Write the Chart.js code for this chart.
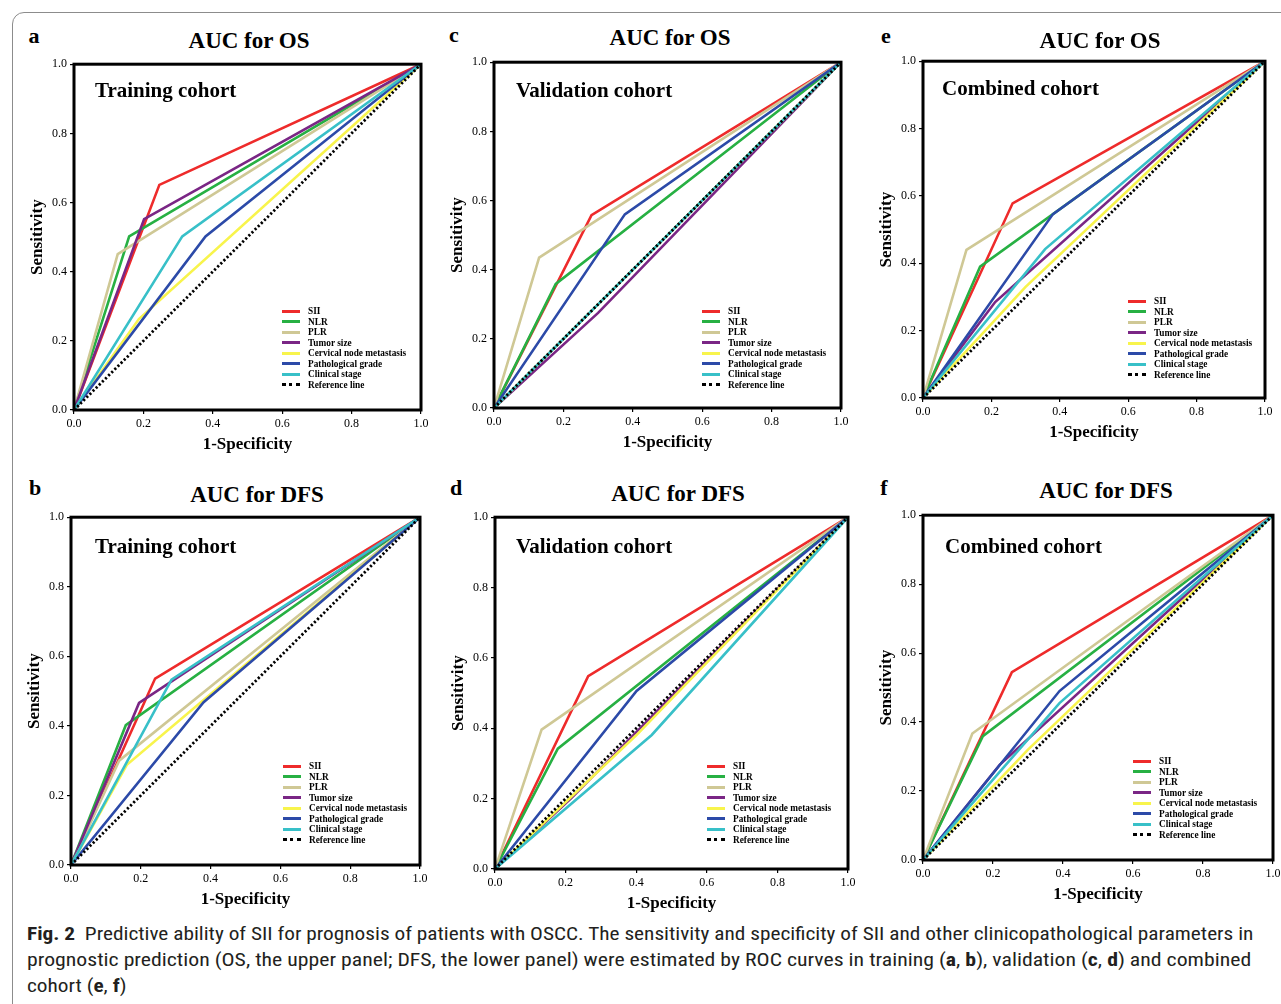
<!DOCTYPE html>
<html>
<head>
<meta charset="utf-8">
<script src="https://cdn.jsdelivr.net/npm/chart.js@4.4.0/dist/chart.umd.min.js"></script>
<style>
  body { margin: 0; width: 1281px; height: 1004px; position: relative; overflow: hidden; background: #fff; font-family: "Liberation Serif", serif; color: #000; }
  .frame { position: absolute; left: 12px; top: 12px; width: 1320px; height: 1100px; border: 1px solid #8c8c8c; border-radius: 12px 0 0 0; }
  canvas { position: absolute; }
  .letter { position: absolute; font-weight: bold; font-size: 22px; line-height: 1; transform: translate(-50%, -50%); }
  .title { position: absolute; font-weight: bold; font-size: 23px; line-height: 1; white-space: nowrap; transform: translate(-50%, -50%); }
  .cohort { position: absolute; font-weight: bold; font-size: 21px; line-height: 1; white-space: nowrap; transform: translateY(-50%); }
  .legend { position: absolute; font-weight: bold; font-size: 9.3px; }
  .legend .row { display: flex; align-items: center; height: 10.5px; white-space: nowrap; }
  .legend .swatch { width: 18px; height: 0; border-top: 3px solid; margin-right: 8px; }
  .legend .dots { border-top-style: dotted; border-top-color: #000; }
  .caption { position: absolute; left: 27px; top: 921px; font-family: "Liberation Sans Narrow", "Roboto Condensed", "Noto Sans", sans-serif; font-size: 19px; line-height: 26px; color: #231f20; }
  .caption div { white-space: nowrap; transform-origin: 0 50%; width: max-content; }
</style>
</head>
<body>
<div class="frame"></div>
<div class="caption">
  <div id="cap1"><b>Fig. 2</b>&nbsp; Predictive ability of SII for prognosis of patients with OSCC. The sensitivity and specificity of SII and other clinicopathological parameters in</div>
  <div id="cap2">prognostic prediction (OS, the upper panel; DFS, the lower panel) were estimated by ROC curves in training (<b>a</b>, <b>b</b>), validation (<b>c</b>, <b>d</b>) and combined</div>
  <div id="cap3">cohort (<b>e</b>, <b>f</b>)</div>
</div>
<script>
// curve names, in legend order
const seriesNames = ['SII', 'NLR', 'PLR', 'Tumor size', 'Cervical node metastasis', 'Pathological grade', 'Clinical stage'];
const refName = 'Reference line';
const axisTicks = [0, 0.2, 0.4, 0.6, 0.8, 1.0];

// every ROC curve runs (0,0) -> cut-off point -> (1,1)
const rocStartX = 0, rocStartY = 0, rocEndX = 1, rocEndY = 1;
const refX = [0, 1];
const refY = [0, 1];

// cut-off point of each curve: 1-specificity (Fpr) and sensitivity (Tpr)
const osTrainFpr = [0.246, 0.159, 0.126, 0.202, 0.187, 0.379, 0.312];
const osTrainTpr = [0.651, 0.502, 0.451, 0.552, 0.263, 0.502, 0.502];
const osValidFpr = [0.281, 0.178, 0.130, 0.300, 0.500, 0.377, 0.500];
const osValidTpr = [0.558, 0.359, 0.435, 0.275, 0.500, 0.560, 0.500];
const osCombFpr = [0.262, 0.167, 0.127, 0.211, 0.300, 0.380, 0.357];
const osCombTpr = [0.578, 0.390, 0.440, 0.285, 0.330, 0.546, 0.442];
const dfsTrainFpr = [0.241, 0.157, 0.138, 0.195, 0.160, 0.380, 0.288];
const dfsTrainTpr = [0.536, 0.402, 0.300, 0.466, 0.288, 0.468, 0.533];
const dfsValidFpr = [0.264, 0.178, 0.132, 0.217, 0.400, 0.401, 0.444];
const dfsValidTpr = [0.548, 0.342, 0.396, 0.202, 0.380, 0.506, 0.381];
const dfsCombFpr = [0.254, 0.171, 0.141, 0.219, 0.300, 0.390, 0.390];
const dfsCombTpr = [0.545, 0.359, 0.367, 0.276, 0.320, 0.490, 0.455];

const seriesColors = ['#ee2b2b', '#27b043', '#cfc895', '#7a2685', '#f8f44c', '#2c4aa8', '#38c0c8'];

// layout: chart area box (L,R,T,B), label spots
const panels = [
  { letter: 'a', title: 'AUC for OS', cohort: 'Training cohort', fpr: osTrainFpr, tpr: osTrainTpr,
    L: 74, R: 421, T: 62, B: 410, letterAt: [34, 36], titleAt: [249, 40], cohortAt: [95, 90], legendAt: [282, 311] },
  { letter: 'c', title: 'AUC for OS', cohort: 'Validation cohort', fpr: osValidFpr, tpr: osValidTpr,
    L: 494, R: 841, T: 60, B: 408, letterAt: [454, 35], titleAt: [670, 37], cohortAt: [516, 90], legendAt: [702, 311] },
  { letter: 'e', title: 'AUC for OS', cohort: 'Combined cohort', fpr: osCombFpr, tpr: osCombTpr,
    L: 923, R: 1265, T: 59, B: 398, letterAt: [886, 36], titleAt: [1100, 40], cohortAt: [942, 88], legendAt: [1128, 301] },
  { letter: 'b', title: 'AUC for DFS', cohort: 'Training cohort', fpr: dfsTrainFpr, tpr: dfsTrainTpr,
    L: 71, R: 420, T: 515, B: 865, letterAt: [35, 488], titleAt: [257, 494], cohortAt: [95, 546], legendAt: [283, 766] },
  { letter: 'd', title: 'AUC for DFS', cohort: 'Validation cohort', fpr: dfsValidFpr, tpr: dfsValidTpr,
    L: 495, R: 848, T: 515, B: 869, letterAt: [456, 488], titleAt: [678, 493], cohortAt: [516, 546], legendAt: [707, 766] },
  { letter: 'f', title: 'AUC for DFS', cohort: 'Combined cohort', fpr: dfsCombFpr, tpr: dfsCombTpr,
    L: 923, R: 1273, T: 513, B: 860, letterAt: [884, 488], titleAt: [1106, 490], cohortAt: [945, 546], legendAt: [1133, 761] }
];

const YW = 50, XH = 48, PADT = 8, PADR = 12;
Chart.defaults.font.family = '"Liberation Serif", serif';
Chart.defaults.color = '#000';

const frameBox = {
  id: 'frameBox',
  afterDraw(chart) {
    const a = chart.chartArea, ctx = chart.ctx;
    ctx.save();
    ctx.strokeStyle = '#000';
    ctx.lineWidth = 3;
    ctx.strokeRect(a.left, a.top, a.right - a.left, a.bottom - a.top);
    ctx.restore();
  }
};

function addText(cls, text, x, y) {
  const d = document.createElement('div');
  d.className = cls;
  d.textContent = text;
  d.style.left = x + 'px';
  d.style.top = y + 'px';
  document.body.appendChild(d);
}

function axisOptions(label, fitFn) {
  return {
    type: 'linear', min: 0, max: 1,
    afterBuildTicks: s => { s.ticks = axisTicks.map(v => ({ value: v })); },
    ticks: { callback: v => v.toFixed(1), font: { size: 12 }, padding: 3, maxRotation: 0, autoSkip: false },
    grid: { drawOnChartArea: false, drawTicks: true, tickLength: 4, color: '#000', lineWidth: 1.2 },
    border: { display: false },
    title: { display: true, text: label, font: { size: 17, weight: 'bold' }, padding: 3 },
    afterFit: fitFn
  };
}

panels.forEach(p => {
  const cv = document.createElement('canvas');
  const w = YW + (p.R - p.L) + PADR;
  const h = PADT + (p.B - p.T) + XH;
  cv.width = w; cv.height = h;
  cv.style.left = (p.L - YW) + 'px';
  cv.style.top = (p.T - PADT) + 'px';
  cv.style.width = w + 'px'; cv.style.height = h + 'px';
  document.body.appendChild(cv);

  const n = seriesNames.length;
  const datasets = seriesNames.map((name, i) => ({
    label: name,
    data: [{ x: rocStartX, y: rocStartY }, { x: p.fpr[i], y: p.tpr[i] }, { x: rocEndX, y: rocEndY }],
    borderColor: seriesColors[i],
    borderWidth: 2.6,
    pointRadius: 0,
    tension: 0,
    fill: false,
    order: n - i + 1
  }));
  datasets.push({
    label: refName,
    data: refX.map((x, k) => ({ x: x, y: refY[k] })),
    borderColor: '#000',
    borderWidth: 2.8,
    borderDash: [2.2, 2.2],
    pointRadius: 0,
    fill: false,
    order: 0
  });

  new Chart(cv, {
    type: 'line',
    data: { datasets },
    options: {
      responsive: false,
      animation: false,
      layout: { padding: { top: PADT, right: PADR, left: 0, bottom: 0 } },
      plugins: { legend: { display: false }, tooltip: { enabled: false } },
      scales: {
        x: axisOptions('1-Specificity', s => { s.height = XH; }),
        y: axisOptions('Sensitivity', s => { s.width = YW; })
      }
    },
    plugins: [frameBox]
  });

  addText('letter', p.letter, p.letterAt[0], p.letterAt[1]);
  addText('title', p.title, p.titleAt[0], p.titleAt[1]);
  addText('cohort', p.cohort, p.cohortAt[0], p.cohortAt[1]);

  const lg = document.createElement('div');
  lg.className = 'legend';
  lg.style.left = p.legendAt[0] + 'px';
  lg.style.top = (p.legendAt[1] - 5.25) + 'px';
  seriesNames.concat([refName]).forEach((name, i) => {
    const row = document.createElement('div');
    row.className = 'row';
    const sw = document.createElement('span');
    sw.className = 'swatch' + (i === n ? ' dots' : '');
    if (i < n) sw.style.borderTopColor = seriesColors[i];
    const tx = document.createElement('span');
    tx.textContent = name;
    row.appendChild(sw); row.appendChild(tx);
    lg.appendChild(row);
  });
  document.body.appendChild(lg);
});

// stretch the caption lines to the printed line length (offsetWidth ignores transforms)
function fitCaption() {
  const c1 = document.getElementById('cap1');
  const c2 = document.getElementById('cap2');
  const c3 = document.getElementById('cap3');
  const k1 = 1226 / c1.offsetWidth;
  const k2 = 1224 / c2.offsetWidth;
  c1.style.transform = 'scaleX(' + k1 + ')';
  c2.style.transform = 'scaleX(' + k2 + ')';
  c3.style.transform = 'scaleX(' + k1 + ')';
}
fitCaption();
if (document.fonts && document.fonts.ready) document.fonts.ready.then(fitCaption);
</script>
</body>
</html>
